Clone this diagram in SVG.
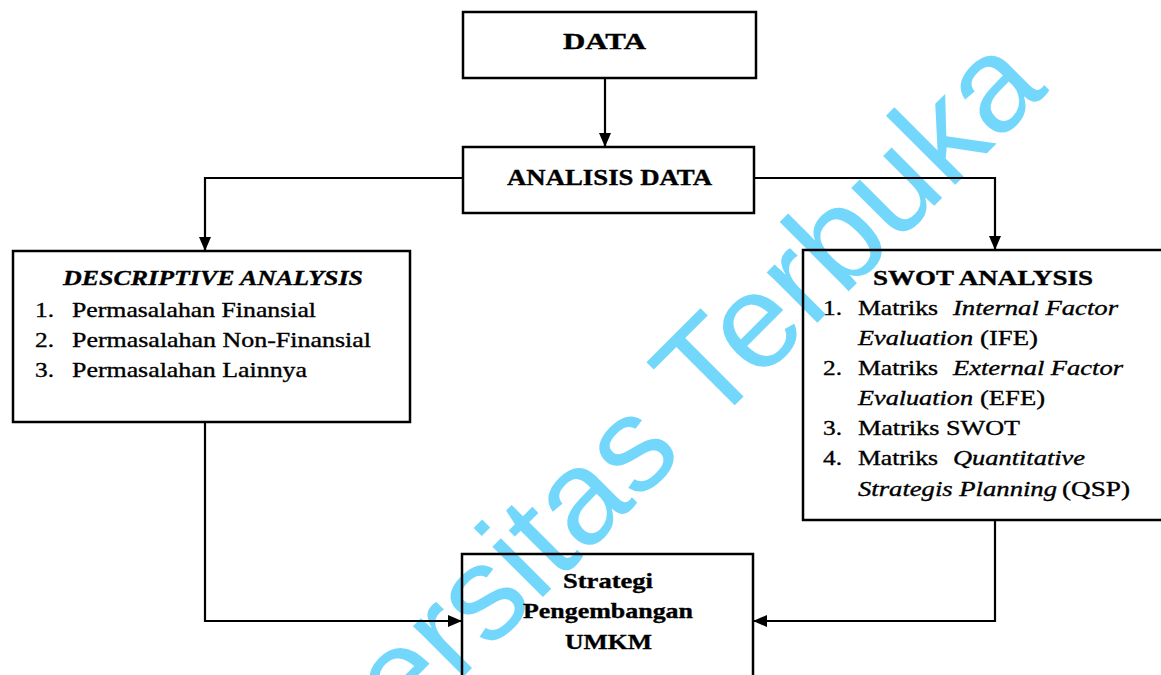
<svg xmlns="http://www.w3.org/2000/svg" width="1161" height="675" viewBox="0 0 1161 675">
<defs>
<style>
.box{fill:none;stroke:#000;stroke-width:2.5}
.ln{fill:none;stroke:#000;stroke-width:2.2}
.t{font-family:"Liberation Serif","Times New Roman",serif;fill:#000;stroke:#000;stroke-width:0.35}
.b{font-weight:bold}
.i{font-style:italic}
.wm{font-family:"Liberation Sans",Arial,sans-serif;font-size:135px;fill:#73d7fc}
</style>
<marker id="ah" viewBox="0 0 14 12" refX="14" refY="6" markerWidth="14" markerHeight="12" markerUnits="userSpaceOnUse" orient="auto">
<path d="M0,0 L14,6 L0,12 Z" fill="#000"/>
</marker>
</defs>
<rect x="0" y="0" width="1161" height="675" fill="#fff"/>
<text class="wm" transform="translate(213,927) rotate(-45)">Universitas Terbuka</text>

<g id="connectors">
<path class="ln" d="M605,78 L605,147" marker-end="url(#ah)"/>
<path class="ln" d="M463,178 L205,178 L205,251" marker-end="url(#ah)"/>
<path class="ln" d="M754,178 L995,178 L995,250" marker-end="url(#ah)"/>
<path class="ln" d="M205,422 L205,621 L462,621" marker-end="url(#ah)"/>
<path class="ln" d="M995,520 L995,621 L753,621" marker-end="url(#ah)"/>
</g>

<g id="data">
<rect class="box" x="463" y="12" width="293" height="66"/>
<text class="t b" x="563" y="49" font-size="23" textLength="83" lengthAdjust="spacingAndGlyphs">DATA</text>
</g>

<g id="analisis">
<rect class="box" x="463" y="147" width="291" height="66"/>
<text class="t b" x="507" y="185" font-size="23" textLength="205" lengthAdjust="spacingAndGlyphs">ANALISIS DATA</text>
</g>

<g id="descriptive">
<rect class="box" x="13" y="251" width="397" height="171"/>
<text class="t b i" x="63" y="285" font-size="22" textLength="300" lengthAdjust="spacingAndGlyphs">DESCRIPTIVE ANALYSIS</text>
<text class="t" x="35" y="317" font-size="21" textLength="19" lengthAdjust="spacingAndGlyphs">1.</text>
<text class="t" x="72" y="317" font-size="21" textLength="244" lengthAdjust="spacingAndGlyphs">Permasalahan Finansial</text>
<text class="t" x="35" y="347" font-size="21" textLength="19" lengthAdjust="spacingAndGlyphs">2.</text>
<text class="t" x="72" y="347" font-size="21" textLength="299" lengthAdjust="spacingAndGlyphs">Permasalahan Non-Finansial</text>
<text class="t" x="35" y="377" font-size="21" textLength="19" lengthAdjust="spacingAndGlyphs">3.</text>
<text class="t" x="72" y="377" font-size="21" textLength="235" lengthAdjust="spacingAndGlyphs">Permasalahan Lainnya</text>
</g>

<g id="swot">
<rect class="box" x="803" y="250" width="370" height="270"/>
<text class="t b" x="873" y="285" font-size="22" textLength="220" lengthAdjust="spacingAndGlyphs">SWOT ANALYSIS</text>
<text class="t" x="823" y="315" font-size="21" textLength="19" lengthAdjust="spacingAndGlyphs">1.</text>
<text class="t" x="858" y="315" font-size="21" textLength="80" lengthAdjust="spacingAndGlyphs">Matriks</text>
<text class="t i" x="953" y="315" font-size="21" textLength="165" lengthAdjust="spacingAndGlyphs">Internal Factor</text>
<text class="t i" x="858" y="345" font-size="21" textLength="115" lengthAdjust="spacingAndGlyphs">Evaluation</text>
<text class="t" x="980" y="345" font-size="21" textLength="58" lengthAdjust="spacingAndGlyphs">(IFE)</text>
<text class="t" x="823" y="375" font-size="21" textLength="19" lengthAdjust="spacingAndGlyphs">2.</text>
<text class="t" x="858" y="375" font-size="21" textLength="80" lengthAdjust="spacingAndGlyphs">Matriks</text>
<text class="t i" x="953" y="375" font-size="21" textLength="170" lengthAdjust="spacingAndGlyphs">External Factor</text>
<text class="t i" x="858" y="405" font-size="21" textLength="115" lengthAdjust="spacingAndGlyphs">Evaluation</text>
<text class="t" x="980" y="405" font-size="21" textLength="65" lengthAdjust="spacingAndGlyphs">(EFE)</text>
<text class="t" x="823" y="435" font-size="21" textLength="19" lengthAdjust="spacingAndGlyphs">3.</text>
<text class="t" x="858" y="435" font-size="21" textLength="162" lengthAdjust="spacingAndGlyphs">Matriks SWOT</text>
<text class="t" x="823" y="465" font-size="21" textLength="19" lengthAdjust="spacingAndGlyphs">4.</text>
<text class="t" x="858" y="465" font-size="21" textLength="80" lengthAdjust="spacingAndGlyphs">Matriks</text>
<text class="t i" x="953" y="465" font-size="21" textLength="132" lengthAdjust="spacingAndGlyphs">Quantitative</text>
<text class="t i" x="858" y="496" font-size="21" textLength="199" lengthAdjust="spacingAndGlyphs">Strategis Planning</text>
<text class="t" x="1062" y="496" font-size="21" textLength="68" lengthAdjust="spacingAndGlyphs">(QSP)</text>
</g>

<g id="strategi">
<rect class="box" x="462" y="554" width="291" height="140"/>
<text class="t b" x="563" y="588" font-size="22" textLength="90" lengthAdjust="spacingAndGlyphs">Strategi</text>
<text class="t b" x="523" y="618" font-size="22" textLength="170" lengthAdjust="spacingAndGlyphs">Pengembangan</text>
<text class="t b" x="565" y="649" font-size="22" textLength="87" lengthAdjust="spacingAndGlyphs">UMKM</text>
</g>
</svg>
